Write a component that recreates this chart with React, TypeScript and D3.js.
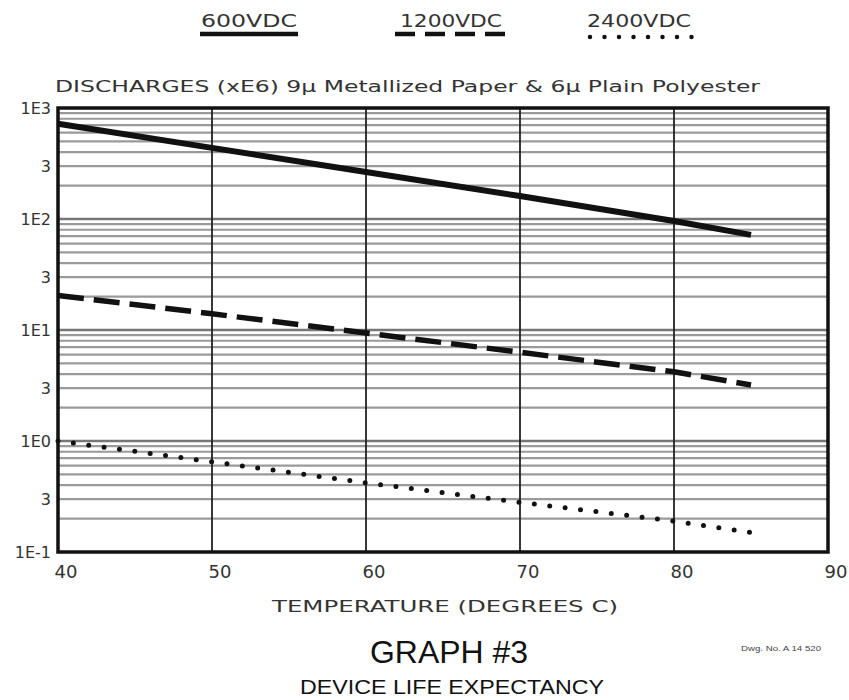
import React from "react";
import * as d3 from "d3";

const temps = [40, 50, 60, 70, 80, 85];
const v600 = [720, 437, 265, 161, 96, 72];
const v1200 = [20.5, 14, 9.4, 6.3, 4.2, 3.2];
const v2400 = [1.0, 0.65, 0.42, 0.28, 0.19, 0.15];
const xTicks = [40, 50, 60, 70, 80, 90];
const yLabelValues = [1000, 300, 100, 30, 10, 3, 1, 0.3, 0.1];
const yLabelTexts = ["1E3", "3", "1E2", "3", "1E1", "3", "1E0", "3", "1E-1"];
const legendNames = ["600VDC", "1200VDC", "2400VDC"];

const W = 849;
const H = 700;
const L = 58, R = 828, T = 108, B = 552;

export default function App() {
  const x = d3.scaleLinear().domain([40, 90]).range([L, R]);
  const y = d3.scaleLog().domain([0.1, 1000]).range([B, T]);

  const minor: number[] = [];
  for (let e = -1; e < 3; e++) {
    for (let m = 1; m <= 9; m++) {
      const v = m * Math.pow(10, e);
      if (v > 0.1 && v < 1000) minor.push(v);
    }
  }

  const line = d3
    .line<number>()
    .x((_, i) => x(temps[i]))
    .y((d) => y(d));

  const font = "'DejaVu Sans', sans-serif";
  const arial = "'Liberation Sans', Arial, sans-serif";

  return (
    <svg width={W} height={H} style={{ display: "block", position: "absolute", left: 0, top: 0 }} fontFamily={font}>
      <rect x={0} y={0} width={W} height={H} fill="#fff" />
      {/* Legend */}
      <g fill="#333" fontSize={17}>
        <text x={201} y={27} textLength={96} lengthAdjust="spacingAndGlyphs">{legendNames[0]}</text>
        <text x={400} y={27} textLength={102} lengthAdjust="spacingAndGlyphs">{legendNames[1]}</text>
        <text x={587} y={27} textLength={104} lengthAdjust="spacingAndGlyphs">{legendNames[2]}</text>
      </g>
      <line x1={200} x2={298} y1={34} y2={34} stroke="#111" strokeWidth={4.5} />
      <line x1={395} x2={505} y1={34} y2={34} stroke="#111" strokeWidth={4.5} strokeDasharray="20 10" />
      <line x1={590} x2={692} y1={37} y2={37} stroke="#111" strokeWidth={4.5} strokeDasharray="0 14.5" strokeLinecap="round" />
      {/* Title */}
      <text x={55} y={92} fontSize={16} fill="#333" textLength={705} lengthAdjust="spacingAndGlyphs">
        DISCHARGES (xE6) 9µ Metallized Paper &amp; 6µ Plain Polyester
      </text>
      {/* Grid */}
      {minor.map((v, i) => (
        <line key={i} x1={L} x2={R} y1={y(v)} y2={y(v)} stroke="#9a9a9a" strokeWidth={2.2} />
      ))}
      {[1, 10, 100].map((v) => (
        <line key={"M" + v} x1={L} x2={R} y1={y(v)} y2={y(v)} stroke="#777" strokeWidth={2.5} />
      ))}
      {xTicks.slice(1, -1).map((t) => (
        <line key={t} x1={x(t)} x2={x(t)} y1={T} y2={B} stroke="#222" strokeWidth={1.8} />
      ))}
      <rect x={L} y={T} width={R - L} height={B - T} fill="none" stroke="#111" strokeWidth={3.5} />
      {/* Series */}
      <path d={line(v600) || ""} fill="none" stroke="#111" strokeWidth={6} />
      <path d={line(v1200) || ""} fill="none" stroke="#111" strokeWidth={5.5} strokeDasharray="26 10" />
      <path d={line(v2400) || ""} fill="none" stroke="#111" strokeWidth={5} strokeDasharray="0 15.5" strokeLinecap="round" />
      {/* Y labels */}
      <g fontSize={16} fill="#333" textAnchor="end">
        {yLabelValues.map((v, i) => (
          <text key={i} x={51} y={y(v) + 6}>{yLabelTexts[i]}</text>
        ))}
      </g>
      {/* X labels */}
      <g fontSize={18} fill="#333" textAnchor="middle">
        {xTicks.map((t) => (
          <text key={t} x={x(t) + 8} y={578}>{t}</text>
        ))}
      </g>
      <text x={272} y={612} fontSize={16} fill="#333" textLength={346} lengthAdjust="spacingAndGlyphs">
        TEMPERATURE (DEGREES C)
      </text>
      <text x={370} y={663} fontSize={31} fill="#111" fontFamily={arial} textLength={158} lengthAdjust="spacingAndGlyphs">
        GRAPH #3
      </text>
      <text x={300} y={694} fontSize={21} fill="#111" fontFamily={arial} textLength={304} lengthAdjust="spacingAndGlyphs">
        DEVICE LIFE EXPECTANCY
      </text>
      <text x={741} y={651} fontSize={7.5} fill="#444" fontFamily={arial} textLength={80} lengthAdjust="spacingAndGlyphs">
        Dwg. No. A 14 520
      </text>
    </svg>
  );
}
